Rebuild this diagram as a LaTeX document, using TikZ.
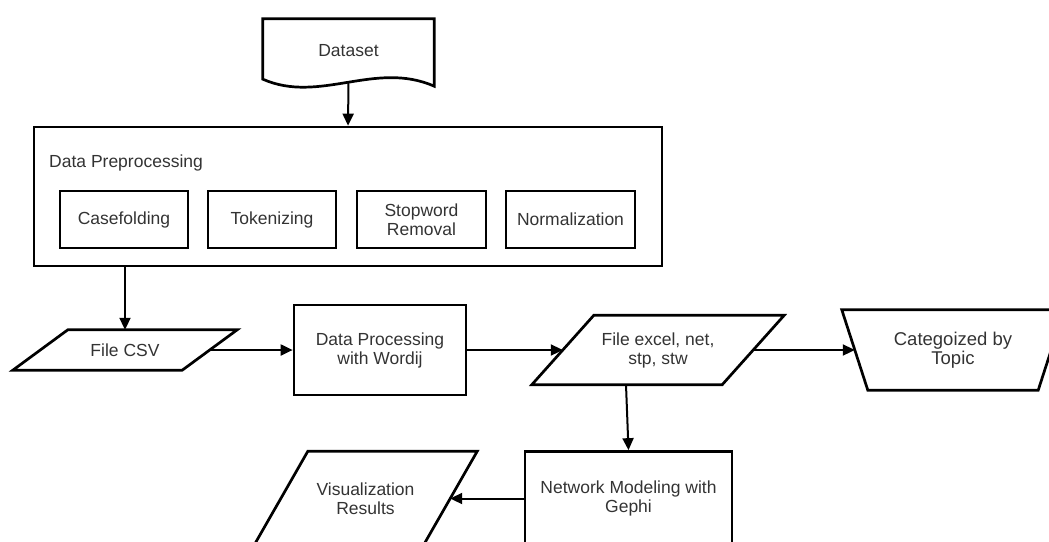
\documentclass[tikz,border=0pt]{standalone}
\usepackage{fontspec}
\setmainfont{Liberation Sans}
\usetikzlibrary{arrows.meta,calc}
\definecolor{txt}{HTML}{333333}
\begin{document}
\begin{tikzpicture}[x=1pt,y=-1pt,
  lbl/.style={rectangle, inner sep=0pt, align=center, text=txt,
    font=\fontsize{17.5}{19}\selectfont},
  box/.style={lbl, draw=black, line width=2.7pt},
  outline/.style={draw=black, line width=2.7pt, line join=miter},
  conn/.style={draw=black, line width=2pt, -{Triangle[length=12pt,width=11pt]}}]
\useasboundingbox (0,0) rectangle (1049,541);
\clip (0,0) rectangle (1049,541);

% Dataset (document shape)
\node[lbl, minimum width=171pt, minimum height=63pt] (dataset) at (348.5,50.5) {Dataset};
\draw[outline] (dataset.north west) -- (dataset.north east)
  -- ($(dataset.south east)+(0,4)$)
  .. controls ($(dataset.south east)+(-59,-22)$) and ($(dataset.south west)+(57,22)$)
  .. ($(dataset.south west)+(0,-3)$) -- cycle;

% Data preprocessing group
\node[box, minimum width=628pt, minimum height=139pt] (preproc) at (348,196.5) {};
\node[lbl, anchor=base west] (pplabel) at (49,167) {Data Preprocessing};
\node[box, minimum width=128pt, minimum height=57pt] (case) at (124,219.5) {Casefolding};
\node[box, minimum width=128pt, minimum height=57pt] (token) at (272,219.5) {Tokenizing};
\node[box, minimum width=129pt, minimum height=57pt] (stop) at (421.5,219.5) {Stopword\\Removal};
\node[box, minimum width=129pt, minimum height=57pt] (norm) at (570.5,219.5) {Normalization};

% File CSV
\node[lbl, minimum width=224pt, minimum height=40pt] (csv) at (125,350) {File CSV};
\draw[outline] ([xshift=55pt]csv.north west) -- (csv.north east)
  -- ([xshift=-55pt]csv.south east) -- (csv.south west) -- cycle;

% Data processing
\node[box, minimum width=172pt, minimum height=90pt] (proc) at (380,350) {Data Processing\\with Wordij};

% File excel
\node[lbl, minimum width=252pt, minimum height=69pt] (excel) at (658,350) {File excel, net,\\stp, stw};
\draw[outline] ([xshift=62pt]excel.north west) -- (excel.north east)
  -- ([xshift=-62pt]excel.south east) -- (excel.south west) -- cycle;

% Categorized by topic
\node[lbl, minimum width=222pt, minimum height=80pt, font=\fontsize{18.5}{19.5}\selectfont] (cat) at (953,350) {Categoized by\\Topic};
\draw[outline] (cat.north west) -- (cat.north east)
  -- ([xshift=-26pt]cat.south east) -- ([xshift=26pt]cat.south west) -- cycle;

% Network modeling
\node[box, minimum width=207pt, minimum height=94pt] (net) at (628.5,498.5) {Network Modeling with\\Gephi};

% Visualization
\node[lbl, minimum width=223pt, minimum height=94pt] (vis) at (365.5,498.5) {Visualization\\Results};
\draw[outline] ([xshift=54pt]vis.north west) -- (vis.north east)
  -- ([xshift=-54pt]vis.south east) -- (vis.south west) -- cycle;

% Connectors
\draw[conn] (dataset.south) -- (preproc.north);
\draw[conn] (csv.north |- preproc.south) -- (csv.north);
\draw[conn] ([xshift=-27.5pt]csv.east) -- (proc.west);
\draw[conn] (proc.east) -- ([xshift=31pt]excel.west);
\draw[conn] ([xshift=-31pt]excel.east) -- ([xshift=13pt]cat.west);
\draw[conn] ([xshift=-32pt]excel.south) -- (net.north);
\draw[conn] (net.west) -- ([xshift=-27pt]vis.east);
\end{tikzpicture}
\end{document}
